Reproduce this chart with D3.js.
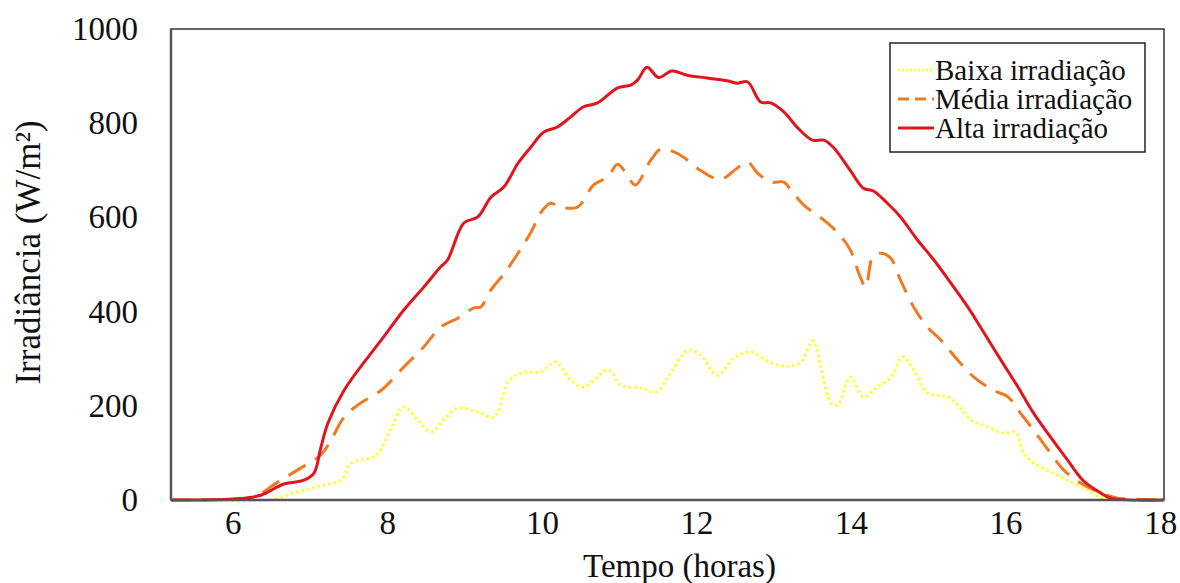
<!DOCTYPE html>
<html>
<head>
<meta charset="utf-8">
<script src="https://cdn.jsdelivr.net/npm/d3@7"></script>
<style>
  body { margin: 0; background: #fff; }
  text { font-family: "Liberation Serif", "Times New Roman", serif; fill: #111; }
</style>
</head>
<body>
<div id="chart"></div>
<script>
const width = 1180;
const height = 583;

// Data =================================================================
const xTicks = [6, 8, 10, 12, 14, 16, 18];
const yTicks = [0, 200, 400, 600, 800, 1000];

const altaHours = [5.2, 6.0, 6.36, 6.66, 6.92, 7.05, 7.14, 7.23, 7.44, 7.79, 7.95, 8.21, 8.47, 8.69, 8.78, 8.99,
	9.17, 9.34, 9.51, 9.69, 9.86, 10.02, 10.2, 10.37, 10.54, 10.72, 10.98, 11.15, 11.24, 11.36, 11.51, 11.68,
	11.88, 12.14, 12.4, 12.53, 12.66, 12.83, 12.96, 13.13, 13.31, 13.5, 13.65, 13.77, 13.99, 14.16, 14.29,
	14.47, 14.64, 14.86, 15.07, 15.29, 15.51, 15.72, 15.94, 16.16, 16.36, 16.58, 16.8, 17.0, 17.23, 17.36, 18.05];
const altaValues = [0, 2, 10, 34, 42, 57, 112, 163, 233, 312, 346, 403, 452, 495, 510, 588,
	601, 643, 665, 715, 750, 781, 792, 813, 835, 843, 875, 881, 892, 919, 897, 911,
	902, 896, 890, 885, 888, 845, 843, 824, 790, 764, 764, 749, 700, 662, 656,
	630, 601, 552, 510, 461, 410, 355, 297, 240, 185, 134, 85, 42, 15, 4, 0];

const mediaHours = [5.2, 6.0, 6.27, 6.58, 6.84, 7.14, 7.27, 7.44, 7.62, 7.92, 8.21, 8.47, 8.69, 8.91, 9.12, 9.21,
	9.34, 9.53, 9.86, 9.98, 10.11, 10.24, 10.46, 10.67, 10.85, 10.98, 11.08, 11.21, 11.41, 11.54, 11.71,
	11.83, 12.05, 12.31, 12.53, 12.66, 12.79, 12.96, 13.13, 13.24, 13.39, 13.65, 13.83, 13.99, 14.12, 14.19,
	14.28, 14.38, 14.51, 14.64, 14.81, 14.99, 15.16, 15.38, 15.59, 15.84, 16.03, 16.19, 16.36, 16.58, 16.75,
	16.97, 17.23, 17.45, 17.66, 18.05];
const mediaValues = [0, 2, 6, 38, 64, 96, 127, 176, 202, 233, 282, 325, 367, 386, 408, 410,
	446, 485, 569, 609, 630, 622, 622, 669, 686, 713, 696, 669, 722, 745, 739,
	728, 700, 681, 705, 718, 694, 675, 675, 654, 626, 594, 567, 531, 473, 452,
	516, 524, 514, 467, 410, 367, 340, 297, 261, 233, 219, 185, 149, 100, 64,
	36, 15, 4, 2, 0];

const baixaHours = [5.2, 6.5, 6.58, 6.84, 7.18, 7.4, 7.53, 7.79, 7.88, 8.04, 8.21, 8.39, 8.56, 8.73, 8.91, 9.17,
	9.38, 9.56, 9.73, 9.98, 10.18, 10.37, 10.54, 10.86, 11.02, 11.28, 11.47, 11.63, 11.89, 12.05, 12.27,
	12.48, 12.7, 12.96, 13.18, 13.35, 13.51, 13.61, 13.74, 13.83, 13.99, 14.16, 14.34, 14.51, 14.67, 14.81,
	14.99, 15.25, 15.38, 15.55, 15.77, 15.97, 16.13, 16.23, 16.36, 16.62, 16.8, 17.06, 17.23, 17.4, 18.05];
const baixaValues = [0, 0, 4, 17, 32, 42, 78, 89, 99, 149, 198, 170, 145, 170, 195, 187,
	176, 250, 270, 272, 293, 255, 240, 276, 244, 238, 229, 261, 318, 308, 265,
	301, 314, 291, 284, 293, 338, 282, 206, 202, 261, 219, 240, 259, 304, 276,
	227, 219, 202, 170, 155, 142, 144, 100, 79, 57, 42, 21, 6, 0, 0];

const seriesNames = ['Baixa irradiação', 'Média irradiação', 'Alta irradiação'];
// =================================================================

const series = [
	{ name: seriesNames[0], hours: baixaHours, values: baixaValues, color: '#ffff2a', dash: '2.5,3', legendDash: '2,2' },
	{ name: seriesNames[1], hours: mediaHours, values: mediaValues, color: '#f07a22', dash: '20,11', legendDash: '11,6' },
	{ name: seriesNames[2], hours: altaHours, values: altaValues, color: '#e2141c', dash: null, legendDash: null },
];

const margin = { top: 29, right: 16, bottom: 83, left: 171 };
const chartWidth = width - margin.left - margin.right;
const chartHeight = height - margin.top - margin.bottom;

const svg = d3.select('#chart').append('svg').attr('width', width).attr('height', height);
const chart = svg.append('g').attr('transform', `translate(${margin.left}, ${margin.top})`);

const xScale = d3.scaleLinear().domain([5.2, 18.05]).range([0, chartWidth]);
const yScale = d3.scaleLinear().domain([0, 1000]).range([chartHeight, 0]);

// Axes (labels only, no tick marks)
const xAxis = chart
	.append('g')
	.attr('transform', `translate(0, ${chartHeight})`)
	.call(d3.axisBottom(xScale).tickValues(xTicks).tickSize(0).tickPadding(9).tickFormat(d3.format('d')));
xAxis.select('.domain').remove();
xAxis.selectAll('text').style('font-size', '33px').attr('dy', '0.75em');

const yAxis = chart
	.append('g')
	.call(d3.axisLeft(yScale).tickValues(yTicks).tickSize(0).tickPadding(33).tickFormat(d3.format('d')));
yAxis.select('.domain').remove();
yAxis.selectAll('text').style('font-size', '33px');

// Lines
const line = d3
	.line()
	.x((d) => xScale(d[0]))
	.y((d) => yScale(d[1]))
	.curve(d3.curveCatmullRom.alpha(0.5));

series.forEach((s) => {
	const pts = s.hours.map((h, i) => [h, s.values[i]]);
	chart
		.append('path')
		.datum(pts)
		.attr('fill', 'none')
		.attr('stroke', s.color)
		.attr('stroke-width', 3)
		.attr('stroke-dasharray', s.dash)
		.attr('stroke-linejoin', 'round')
		.attr('d', line);
});

// Frame
chart
	.append('rect')
	.attr('width', chartWidth)
	.attr('height', chartHeight)
	.attr('fill', 'none')
	.attr('stroke', '#333')
	.attr('stroke-width', 1.5);
chart
	.append('line')
	.attr('x1', 0)
	.attr('x2', chartWidth)
	.attr('y1', chartHeight)
	.attr('y2', chartHeight)
	.attr('stroke', '#555')
	.attr('stroke-width', 2.5);
chart.append('line').attr('x1', 0).attr('x2', 0).attr('y1', 0).attr('y2', chartHeight).attr('stroke', '#555').attr('stroke-width', 2.5);

// Axis titles
svg.append('text')
	.attr('x', margin.left + chartWidth / 2 + 12)
	.attr('y', 577)
	.attr('text-anchor', 'middle')
	.style('font-size', '33px')
	.text('Tempo (horas)');

svg.append('text')
	.attr('transform', `translate(40, ${margin.top + chartHeight / 2 - 12}) rotate(-90)`)
	.attr('text-anchor', 'middle')
	.style('font-size', '35px')
	.text('Irradiância (W/m²)');

// Legend
const legend = svg.append('g').attr('transform', 'translate(890, 43)');
legend
	.append('rect')
	.attr('width', 255)
	.attr('height', 109)
	.attr('fill', '#fff')
	.attr('stroke', '#222')
	.attr('stroke-width', 1.5);

series.forEach((s, i) => {
	const y = 27 + i * 29;
	legend
		.append('line')
		.attr('x1', 8)
		.attr('x2', 44)
		.attr('y1', y)
		.attr('y2', y)
		.attr('stroke', s.color)
		.attr('stroke-width', 3)
		.attr('stroke-dasharray', s.legendDash);
	legend
		.append('text')
		.attr('x', 45)
		.attr('y', y)
		.attr('dy', '0.35em')
		.style('font-size', '29px')
		.text(s.name);
});
</script>
</body>
</html>
